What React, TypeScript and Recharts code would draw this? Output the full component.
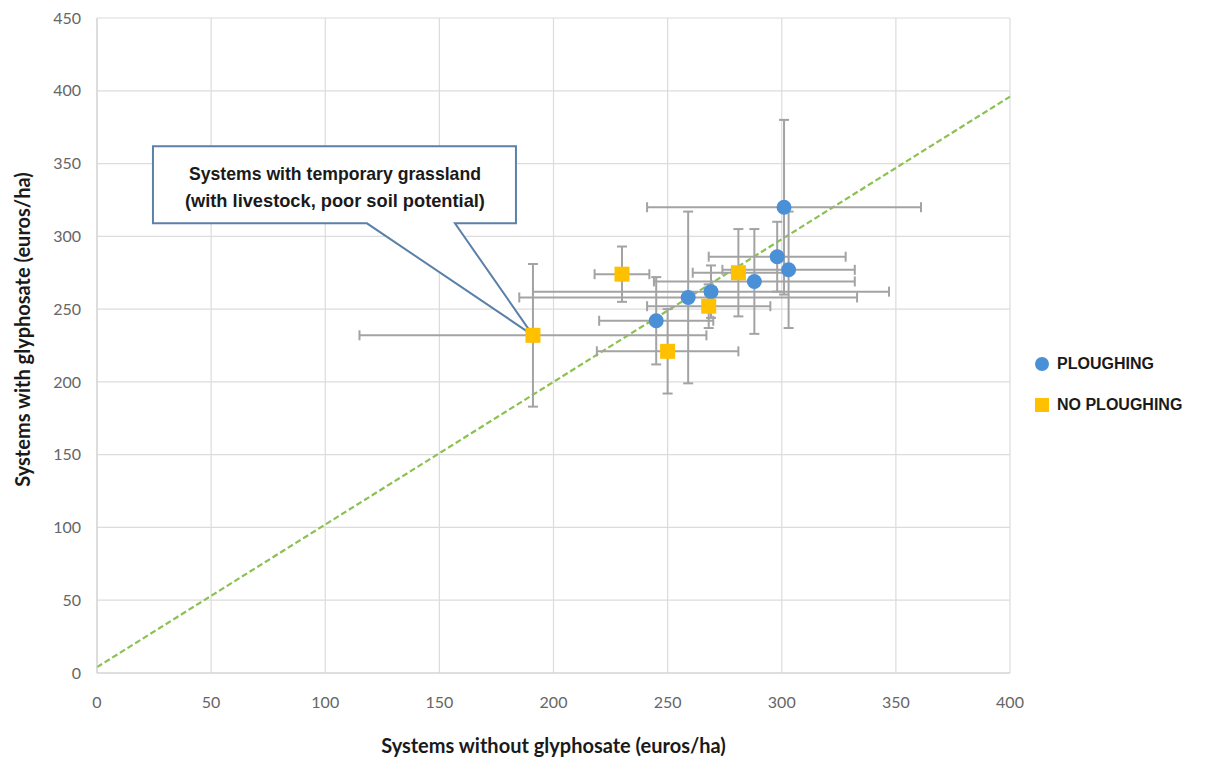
import React from 'react';
import {
  ScatterChart,
  Scatter,
  XAxis,
  YAxis,
  CartesianGrid,
  ErrorBar,
  ReferenceLine,
  ReferenceDot,
  Label,
} from 'recharts';

// Gross margin per system, euros/ha (x = without glyphosate, y = with glyphosate)
const ploughX = [301, 298, 303, 288, 269, 259, 245];
const ploughY = [320, 286, 277, 269, 262, 258, 242];
const ploughErrX = [60, 30, 29, 44, 78, 74, 25];
const ploughErrY = [60, 24, 40, 36, 18, 59, 30];

const noPloughX = [230, 281, 268, 250, 191];
const noPloughY = [274, 275, 252, 221, 232];
const noPloughErrX = [12, 20, 27, 31, 76];
const noPloughErrY = [19, 30, 15, 29, 49];

const xTicks = [0, 50, 100, 150, 200, 250, 300, 350, 400];
const yTicks = [0, 50, 100, 150, 200, 250, 300, 350, 400, 450];

// linear trend drawn across the whole x range
const trendStart = { x: 0, y: 4 };
const trendEnd = { x: 400, y: 396 };

const calloutLines = ['Systems with temporary grassland', '(with livestock, poor soil potential)'];

const BLUE = '#4a90d6';
const GOLD = '#ffc000';
const ERR = '#a3a3a3';

const toRows = (xs: number[], ys: number[], ex: number[], ey: number[]) =>
  xs.map((x, i) => ({ x, y: ys[i], ex: ex[i], ey: ey[i] }));

const ploughData = toRows(ploughX, ploughY, ploughErrX, ploughErrY);
const noPloughData = toRows(noPloughX, noPloughY, noPloughErrX, noPloughErrY);

const Circle = (p: any) => <circle cx={p.cx} cy={p.cy} r={7.5} fill={BLUE} />;
const Square = (p: any) => <rect x={p.cx - 7.5} y={p.cy - 7.5} width={15} height={15} fill={GOLD} />;

// speech-bubble box whose tail points at the grassland system
const Callout = (p: any) => {
  const { cx, cy } = p;
  const L = cx - 380;
  const R = cx - 17;
  const T = cy - 189;
  const B = cy - 112;
  const path = `M${L},${T} H${R} V${B} H${cx - 78} L${cx},${cy} L${cx - 166},${B} H${L} Z`;
  return (
    <g>
      <path d={path} fill="#fff" stroke="#5b80a9" strokeWidth={2} strokeLinejoin="miter" />
      {calloutLines.map((t, i) => (
        <text
          key={i}
          x={cx - 198}
          y={cy - 162 + i * 27}
          textAnchor="middle"
          dominantBaseline="central"
          fontFamily="'Liberation Sans Narrow', 'Liberation Sans', Arial, sans-serif"
          fontWeight={700}
          fontSize={19}
          fill="#1a1a1a"
          textLength={i === 0 ? 292 : 300}
          lengthAdjust="spacingAndGlyphs"
        >
          {t}
        </text>
      ))}
    </g>
  );
};

const tickStyle = { fill: '#666', fontSize: 16, fontFamily: 'Lato, sans-serif' };
const titleFont = { fontFamily: 'Lato, sans-serif', fontWeight: 700, fontSize: 20, fill: '#1a1a1a' };

export default function App() {
  return (
    <div style={{ position: 'absolute', left: 0, top: 0, width: 1220, height: 758, background: '#fff' }}>
      <ScatterChart width={1220} height={758} margin={{ top: 18, right: 210, bottom: 0, left: 0 }}>
        <CartesianGrid stroke="#dcdcdc" strokeWidth={1.2} />
        <XAxis
          type="number"
          dataKey="x"
          domain={[0, 400]}
          ticks={xTicks}
          height={85}
          tickLine={false}
          tickSize={0}
          tickMargin={24}
          axisLine={{ stroke: '#d0d0d0' }}
          tick={tickStyle}
        >
          <Label
            content={({ viewBox }: any) => (
              <text
                x={viewBox.x + viewBox.width / 2}
                y={viewBox.y + 72}
                textAnchor="middle"
                dominantBaseline="central"
                {...titleFont}
              >
                Systems without glyphosate (euros/ha)
              </text>
            )}
          />
        </XAxis>
        <YAxis
          type="number"
          dataKey="y"
          domain={[0, 450]}
          ticks={yTicks}
          width={97}
          tickLine={false}
          tickSize={0}
          tickMargin={16}
          axisLine={{ stroke: '#d0d0d0' }}
          tick={tickStyle}
        >
          <Label
            content={({ viewBox }: any) => {
              const x = viewBox.x + 22;
              const y = viewBox.y + viewBox.height / 2 - 16;
              return (
                <text
                  x={x}
                  y={y}
                  transform={`rotate(-90 ${x} ${y})`}
                  textAnchor="middle"
                  dominantBaseline="central"
                  {...titleFont}
                >
                  Systems with glyphosate (euros/ha)
                </text>
              );
            }}
          />
        </YAxis>
        <ReferenceLine
          segment={[trendStart, trendEnd]}
          stroke="#8cc152"
          strokeWidth={2.2}
          strokeDasharray="6 3"
        />
        <ReferenceDot x={noPloughX[4]} y={noPloughY[4]} r={0} shape={Callout} />
        <Scatter name="PLOUGHING" data={ploughData} shape={Circle} isAnimationActive={false}>
          <ErrorBar dataKey="ex" direction="x" width={5} stroke={ERR} strokeWidth={2} />
          <ErrorBar dataKey="ey" direction="y" width={5} stroke={ERR} strokeWidth={2} />
        </Scatter>
        <Scatter name="NO PLOUGHING" data={noPloughData} shape={Square} isAnimationActive={false}>
          <ErrorBar dataKey="ex" direction="x" width={5} stroke={ERR} strokeWidth={2} />
          <ErrorBar dataKey="ey" direction="y" width={5} stroke={ERR} strokeWidth={2} />
        </Scatter>
      </ScatterChart>
      <div
        style={{
          position: 'absolute',
          left: 1035,
          top: 352,
          fontFamily: "'Liberation Sans', Arial, sans-serif",
          fontWeight: 700,
          fontSize: 16,
          color: '#1a1a1a',
        }}
      >
        <div style={{ display: 'flex', alignItems: 'center', height: 24 }}>
          <span style={{ width: 14, height: 14, borderRadius: '50%', background: BLUE, marginRight: 8 }} />
          PLOUGHING
        </div>
        <div style={{ display: 'flex', alignItems: 'center', height: 24, marginTop: 17 }}>
          <span style={{ width: 14, height: 14, background: GOLD, marginRight: 8 }} />
          NO PLOUGHING
        </div>
      </div>
    </div>
  );
}
